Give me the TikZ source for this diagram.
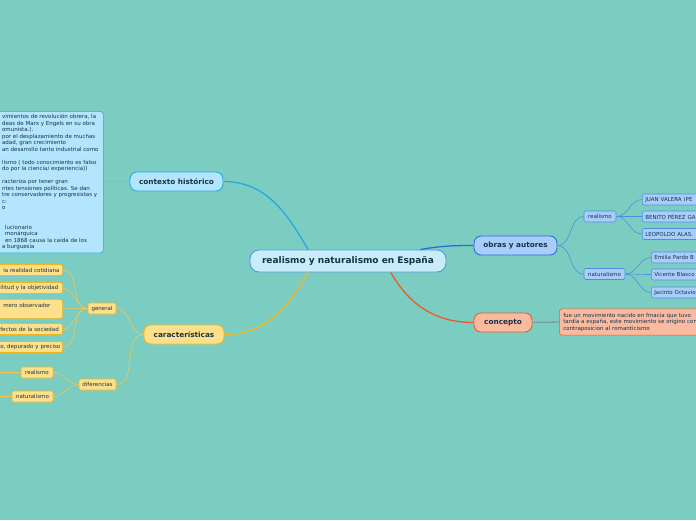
\documentclass[tikz,border=0pt]{standalone}
\usepackage{fontspec}
\setmainfont{DejaVu Sans}
\usepackage{xcolor}
\usetikzlibrary{positioning}

\definecolor{bgteal}{HTML}{7CCDC1}
\definecolor{mainfill}{HTML}{C9ECFB}
\definecolor{mainedge}{HTML}{4A9FD8}
\definecolor{ctxfill}{HTML}{B3E5FC}
\definecolor{ctxedge}{HTML}{29A8E0}
\definecolor{carfill}{HTML}{FFE08A}
\definecolor{caredge}{HTML}{F2B71F}
\definecolor{obrfill}{HTML}{A9CDFA}
\definecolor{obredge}{HTML}{2A6FD6}
\definecolor{leaffill}{HTML}{A9CDFA}
\definecolor{leafedge}{HTML}{4A90E2}
\definecolor{confill}{HTML}{F9BAA0}
\definecolor{conedge}{HTML}{F05A28}
\definecolor{txtdark}{HTML}{17324A}

\begin{document}
\begin{tikzpicture}[x=1pt,y=-1pt,
  topic/.style={draw,rounded corners=7pt,line width=0.9pt,font=\fontsize{7.3}{8}\selectfont\bfseries,
    text=txtdark,inner sep=0pt,minimum height=19pt},
  sub/.style={draw,rounded corners=1.5pt,line width=0.6pt,font=\fontsize{5.5}{6.2}\selectfont,
    text=txtdark,inner sep=0pt,minimum height=11pt},
  cutleaf/.style={sub,draw=caredge,fill=carfill,anchor=west,minimum width=65pt,text width=59pt,
    align=left,inner xsep=3pt},
  note/.style={draw,rounded corners=3pt,line width=0.6pt,font=\fontsize{5.5}{6.5}\selectfont,
    text=txtdark,align=left,inner sep=3pt},
  link/.style={line width=1.3pt},
  twig/.style={line width=0.6pt}
]
\useasboundingbox (0,0) rectangle (696,520);
\clip (0,0) rectangle (696,520);
\fill[bgteal] (0,0) rectangle (696,520);

% central topic
\node[draw=mainedge,fill=mainfill,rounded corners=9pt,line width=0.9pt,minimum width=196pt,minimum height=22pt,
  font=\fontsize{9}{10}\selectfont\bfseries,text=txtdark] (main) at (348,261) {realismo y naturalismo en España};

% main branches
\node[topic,draw=ctxedge,fill=ctxfill,minimum width=93pt] (ctx) at (176.5,181.5) {contexto histórico};
\node[topic,draw=caredge,fill=carfill,minimum width=80pt] (car) at (184,334.5) {características};
\node[topic,draw=obredge,fill=obrfill,minimum width=83pt] (obr) at (515.5,245.5) {obras y autores};
\node[topic,draw=conedge,fill=confill,minimum width=58pt] (con) at (503,322.5) {concepto};

\draw[link,draw=ctxedge] (main.164) to[out=120,in=0] (ctx.east);
\draw[link,draw=caredge] (main.196) to[out=240,in=0] (car.east);
\draw[link,draw=obredge] (main.9) to[out=10,in=180] (obr.west);
\draw[link,draw=conedge] (main.-15) to[out=-60,in=180] (con.west);

% contexto historico
\node[note,draw=ctxedge,fill=ctxfill,anchor=north west,minimum width=106pt,minimum height=141pt] (ctxtext) at (-3,111) {%
vimientos de revolución obrera, la\\
deas de Marx y Engels en su obra\\
omunista.).\\
por el desplazamiento de muchas\\
adad, gran crecimiento\\
an desarrollo tanto industrial como\\[6.5pt]
lismo ( todo conocimiento es falso\\
do por la ciencia/ experiencia))\\[6.5pt]
racteriza por tener gran\\
ntes tensiones políticas. Se dan\\
tre conservadores y progresistas y\\
c:\\
o\\[13pt]
\hspace{3pt}lucionario\\
\hspace{3pt}monárquica\\
\hspace{3pt}en 1868 causa la caida de los\\
a burguesía};
\draw[twig,draw=ctxedge!70] (ctx.west) -- (ctxtext.east |- ctx.west);

% caracteristicas
\node[sub,draw=caredge,fill=carfill,minimum width=28pt] (gen) at (102,308.5) {general};
\node[sub,draw=caredge,fill=carfill,minimum width=37pt] (dif) at (97.5,384.5) {diferencias};
\draw[twig,draw=caredge!80] (car.west) to[out=180,in=0] (gen.east);
\draw[twig,draw=caredge!80] (car.west) to[out=180,in=0] (dif.east);

\node[cutleaf] (g1) at (-3,270) {\mbox{\hspace{3pt}la realidad cotidiana}};
\node[cutleaf] (g2) at (-3,288) {\mbox{ilitud y la objetividad}};
\node[cutleaf,anchor=north west,minimum height=19pt,inner ysep=3pt] (g3) at (-3,299) {\mbox{\hspace{3pt}mero observador}\\\mbox{}};
\node[cutleaf] (g4) at (-3,329) {\mbox{fectos de la sociedad}};
\node[cutleaf] (g5) at (-3,347) {\mbox{o, depurado y preciso}};
\foreach \g in {g1,g2,g3,g4,g5}
  \draw[twig,draw=caredge!80] (gen.west) to[out=180,in=0] (\g.east);

\node[sub,draw=caredge,fill=carfill,minimum width=32pt] (dreal) at (37,372.5) {realismo};
\node[sub,draw=caredge,fill=carfill,minimum width=41pt] (dnat) at (32.5,396.5) {naturalismo};
\draw[twig,draw=caredge!80] (dif.west) to[out=180,in=0] (dreal.east);
\draw[twig,draw=caredge!80] (dif.west) to[out=180,in=0] (dnat.east);
\coordinate (drealend) at (-10,372.5);
\coordinate (dnatend) at (-10,396.5);
\draw[twig,draw=caredge!80] (dreal.west) -- (drealend);
\draw[twig,draw=caredge!80] (dnat.west) -- (dnatend);

% obras y autores
\node[sub,draw=leafedge,fill=leaffill,minimum width=32pt] (oreal) at (600,216.5) {realismo};
\node[sub,draw=leafedge,fill=leaffill,minimum width=41pt] (onat) at (604.5,274) {naturalismo};
\draw[twig,draw=leafedge] (obr.east) to[out=0,in=180] (oreal.west);
\draw[twig,draw=leafedge] (obr.east) to[out=0,in=180] (onat.west);

\foreach \n/\y/\t in {r1/199.5/JUAN VALERA (PE,r2/216.5/BENITO PÉREZ GA,r3/234/LEOPOLDO ALAS.}
  \node[sub,draw=leafedge,fill=leaffill,anchor=west,minimum width=80pt,text width=74pt,align=left,
    inner xsep=3pt] (\n) at (642,\y) {\t};
\foreach \n/\y/\t in {n1/257.5/Emilia Pardo B,n2/274.5/Vicente Blasco,n3/292.5/Jacinto Octavio}
  \node[sub,draw=leafedge,fill=leaffill,anchor=west,minimum width=80pt,text width=74pt,align=left,
    inner xsep=3pt] (\n) at (651,\y) {\t};
\foreach \n in {r1,r2,r3}
  \draw[twig,draw=leafedge] (oreal.east) to[out=0,in=180] (\n.west);
\foreach \n in {n1,n2,n3}
  \draw[twig,draw=leafedge] (onat.east) to[out=0,in=180] (\n.west);

% concepto
\node[note,draw=conedge,fill=confill,anchor=west,text width=150pt,font=\fontsize{5.5}{6.5}\selectfont,
  inner sep=4pt] (context) at (559,322) {fue un movimiento nacido en fmacia que tuvo\\
tardía a españa, este movimiento se origino con\\
contraposicion al romanticismo};
\draw[link,draw=gray!60!bgteal] (con.east) -- (context.west);
\end{tikzpicture}
\end{document}
